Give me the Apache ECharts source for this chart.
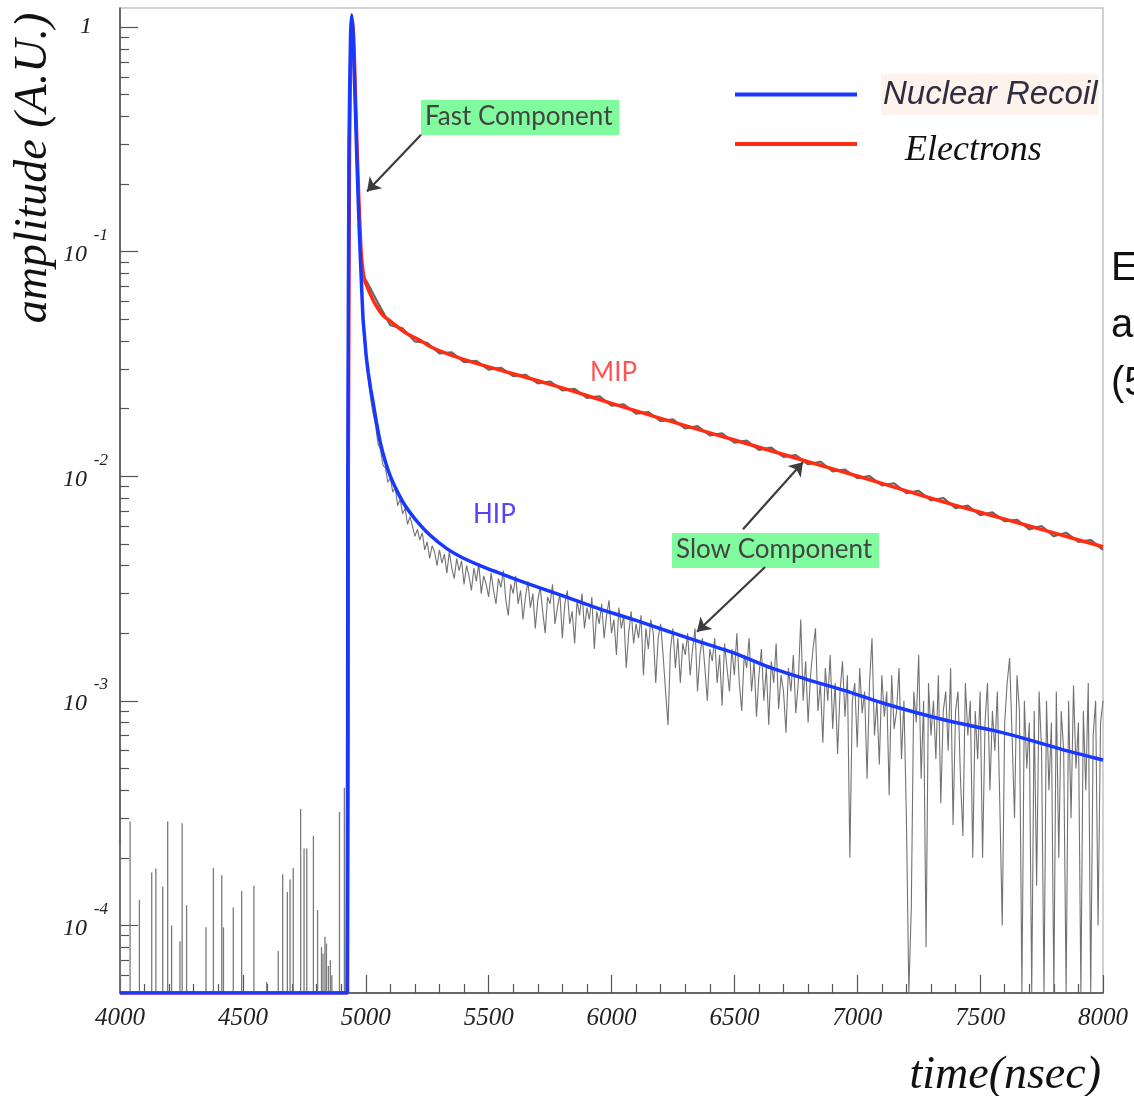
<!DOCTYPE html>
<html><head><meta charset="utf-8">
<script src="https://cdn.jsdelivr.net/npm/echarts@6/dist/echarts.min.js"></script>
<style>html,body{margin:0;padding:0;background:#fff}#c{width:1134px;height:1096px}</style>
</head><body><div id="c"></div>
<script>
// ---------- axis definitions ----------
const X_MIN = 4000, X_MAX = 8000, X_STEP = 500;
const Y_MIN = 5e-5, Y_MAX = 1.215;           // log axis range (floor of the plot)
const Y_MAJOR = [1e-4, 1e-3, 1e-2, 1e-1, 1];
const Y_MINOR = [5e-5,6e-5,7e-5,8e-5,9e-5,
  2e-4,3e-4,4e-4,5e-4,6e-4,7e-4,8e-4,9e-4,
  2e-3,3e-3,4e-3,5e-3,6e-3,7e-3,8e-3,9e-3,
  0.02,0.03,0.04,0.05,0.06,0.07,0.08,0.09,
  0.2,0.3,0.4,0.5,0.6,0.7,0.8,0.9];

// ---------- fitted curves [time ns, amplitude] ----------
const nuclearRecoilFit = [[4000,5e-5],[4924,5e-5],[4927,0.01],[4932,0.3],[4938,0.9],[4943,1.13],[4948,0.95],
  [4955,0.55],[4962,0.3],[4970,0.16],[4977,0.1],[4983,0.07],[4989,0.05],[4995,0.042],[5001,0.035],[5010,0.029],
  [5020,0.0245],[5030,0.0213],[5045,0.017],[5060,0.014],[5080,0.0116],[5100,0.01],[5127,0.0086],[5160,0.0074],
  [5200,0.00646],[5261,0.00547],[5330,0.00476],[5400,0.0043],[5470,0.00398],[5534,0.00374],[5650,0.00335],
  [5803,0.00293],[5953,0.00256],[6100,0.00228],[6230,0.00204],[6360,0.00183],[6500,0.00163],[6650,0.0014],
  [6800,0.00124],[6950,0.00111],[7100,0.00098],[7250,0.00088],[7400,0.0008],[7550,0.00074],[7700,0.00067],
  [7850,0.0006],[8000,0.000545]];
const electronsFit = [[4000,5e-5],[4926,5e-5],[4929,0.01],[4934,0.3],[4940,0.85],[4946,1.07],[4951,0.9],
  [4958,0.5],[4965,0.28],[4972,0.17],[4981,0.1],[4990,0.08],[4998,0.073],[5005,0.0699],[5020,0.064],
  [5040,0.058],[5070,0.052],[5100,0.049],[5127,0.0464],[5170,0.043],[5220,0.0403],[5261,0.0378],[5350,0.0345],
  [5450,0.0318],[5550,0.0296],[5700,0.0266],[5850,0.0238],[6000,0.0211],[6200,0.0181],[6400,0.0156],
  [6600,0.01345],[6800,0.0116],[7000,0.01002],[7200,0.0086],[7400,0.00741],[7600,0.00644],[7800,0.00559],
  [8000,0.00485]];

// ---------- measured traces (gray) ----------
// pre-trigger noise spikes [time, amplitude]
const preTriggerSpikes = [[4000,2.27e-4],[4041,2.9e-4],[4079,1.3e-4],[4129,1.72e-4],[4146,1.79e-4],[4174,1.49e-4],
  [4194,2.9e-4],[4210,1.0e-4],[4244,8.5e-5],[4253,2.85e-4],[4271,1.23e-4],[4350,9.8e-5],[4380,1.8e-4],
  [4414,1.67e-4],[4421,9.8e-5],[4461,1.2e-4],[4495,1.42e-4],[4545,1.5e-4],[4597,5.6e-5],[4644,7.7e-5],
  [4662,1.69e-4],[4681,1.41e-4],[4692,1.6e-4],[4705,1.8e-4],[4735,3.3e-4],[4749,2.2e-4],[4760,2.2e-4],
  [4787,2.5e-4],[4804,1.17e-4],[4820,8e-5],[4826,7.5e-5],[4834,8.9e-5],[4840,8.3e-5],[4848,6.6e-5],
  [4856,7e-5],[4862,6e-5],[4893,3.2e-4],[4913,4.1e-4]];
// nuclear-recoil (HIP) trace: rising edge, then samples every 10 ns from 5010 to 8000 (0 = below scale)
const hipRise = [[4924,5e-5],[4930,0.4],[4940,1.1],[4950,0.8],[4960,0.35],[4975,0.11],[4990,0.045],[5000,0.033]];
const HIP_START = 5010, HIP_STEP = 10;
const hipSamples = [
  0.027,0.022,0.019,0.0168,0.0139,0.0131,0.0112,0.0109,0.0094,0.0098,
  0.0085,0.0089,0.0074,0.0079,0.0068,0.0072,0.0061,0.0066,0.0060,0.0054,
  0.0058,0.0052,0.0056,0.0047,0.0051,0.0043,0.0049,0.0046,0.0040,0.0047,
  0.0041,0.0045,0.0037,0.0046,0.0039,0.0035,0.0043,0.0038,0.0042,0.0033,
  0.0040,0.0036,0.0031,0.0039,0.0034,0.0041,0.0030,0.0036,0.0033,0.0029,
  0.0037,0.0031,0.0027,0.0035,0.0032,0.0038,0.0028,0.0024,0.0033,0.0030,
  0.0036,0.0027,0.0031,0.0023,0.0029,0.0034,0.0026,0.0030,0.0021,0.0028,
  0.0032,0.0025,0.0020,0.0029,0.0027,0.0033,0.0022,0.0026,0.0030,0.0019,
  0.0027,0.0031,0.0022,0.0025,0.0018,0.0028,0.0024,0.0030,0.0021,0.0026,
  0.0023,0.0029,0.0017,0.0025,0.0022,0.0027,0.0019,0.0024,0.0028,0.0020,
  0.0023,0.0016,0.0026,0.0021,0.0024,0.0014,0.0020,0.0025,0.0018,0.0022,
  0.0019,0.0024,0.0013,0.0021,0.0017,0.0023,0.0020,0.0012,0.0019,0.0022,
  0.0016,0.0011,0.00078,0.0017,0.0021,0.0014,0.0019,0.0012,0.0018,0.0016,
  0.0020,0.0013,0.0017,0.0021,0.0011,0.0016,0.0019,0.0014,0.0010,0.0017,
  0.0015,0.0019,0.0012,0.0016,0.00095,0.0018,0.0014,0.0011,0.0017,0.0013,
  0.0020,0.0012,0.0009,0.0016,0.0014,0.0019,0.0011,0.0015,0.00085,0.0013,
  0.0017,0.0010,0.0014,0.00078,0.0015,0.0012,0.0018,0.00092,0.0013,0.0011,
  0.00072,0.0014,0.0011,0.0016,0.00088,0.0012,0.0023,0.0010,0.0015,0.00080,
  0.0013,0.0017,0.0021,0.0009,0.0012,0.00065,0.0014,0.0010,0.0016,0.00075,
  0.0012,0.00058,0.0011,0.0015,0.00085,0.0013,0.00020,0.0010,0.0012,0.00062,
  0.0014,0.00088,0.0011,0.00045,0.0012,0.0019,0.00070,0.0010,0.00052,0.0013,
  0.00085,0.0011,0.00038,0.0013,0.00075,0.0009,0.0014,0.00055,0.0010,0.00030,
  0,0.00012,0.0011,0.0008,0.0016,0.00045,0.0010,0.00008,0.0012,0.0007,
  0.0010,0.00055,0.0013,0.00035,0.0009,0.0011,0.0006,0.0014,0.00028,0.0009,
  0.0011,0.00045,0.00025,0.0012,0.0007,0.0010,0.0002,0.0009,0.00055,0.0011,
  0.0002,0.0008,0.0012,0.0004,0.0009,0.0006,0.0011,0.00035,0.0001,0.0008,
  0.0012,0.00155,0.0007,0.0003,0.0013,0.0009,0,0.0010,0.0005,0.0008,
  0,0.0009,0.00015,0.0011,0.0006,0,0.0010,0.0004,0.0008,0,
  0.0011,0.0002,0.0009,0.0006,0,0.0010,0.0003,0.00117,0.0005,0.0008,
  0,0.0009,0.0004,0.0012,0,0.0007,0.0010,0.0001,0.0008,0.0010];
// electron (MIP) trace: samples every 50 ns from 5000 to 8000
const MIP_START = 5000, MIP_STEP = 50;
const mipSamples = [
  0.075,0.059,0.047,0.0455,0.0398,0.0392,0.0352,0.0356,0.0322,0.0326,
  0.0298,0.0304,0.0279,0.0283,0.0259,0.0264,0.0241,0.0245,0.0223,0.0227,
  0.0206,0.0209,0.019,0.0193,0.0176,0.0179,0.0163,0.0167,0.0152,0.0155,
  0.0141,0.0144,0.0131,0.0134,0.0122,0.0124,0.0113,0.0116,0.0105,0.0107,
  0.0098,0.0100,0.0091,0.0093,0.0084,0.0086,0.0078,0.0080,0.0072,0.0074,
  0.0067,0.0069,0.0063,0.0064,0.0058,0.0060,0.0054,0.0056,0.0051,0.0052,
  0.0047];

// ---------- annotation arrows [tail, head] in data coords ----------
const arrows = [
  [[5225,0.331],[5005,0.185]],
  [[6535,0.00581],[6779,0.01154]],
  [[6625,0.00394],[6348,0.00203]]
];

// ---------- build series data ----------
const clamp = v => (v > 0 ? v : Y_MIN);
const hipTrace = hipRise.concat(hipSamples.map((v, i) => [HIP_START + i * HIP_STEP, clamp(v)]));
const mipTrace = [[4998,0.073]].concat(mipSamples.map((v, i) => [MIP_START + i * MIP_STEP, v]));

const serif = 'Liberation Serif';
const chart = echarts.init(document.getElementById('c'));
chart.setOption({
  animation: false,
  backgroundColor: '#fff',
  grid: { left: 120, top: 8, right: 31, bottom: 103, show: true, borderColor: '#c4c4c4', borderWidth: 1.5 },
  xAxis: {
    type: 'value', min: X_MIN, max: X_MAX, interval: X_STEP,
    axisLine: { lineStyle: { color: '#444', width: 1.5 } },
    axisTick: { inside: true, length: 18, lineStyle: { color: '#555', width: 1.2 } },
    minorTick: { show: true, splitNumber: 5, length: 9, lineStyle: { color: '#555', width: 1.2 } },
    splitLine: { show: false },
    axisLabel: { fontFamily: serif, fontStyle: 'italic', fontSize: 25, color: '#222', margin: 13,
      formatter: v => String(v) }
  },
  yAxis: [{
    type: 'log', logBase: 10, min: Y_MIN, max: Y_MAX, position: 'left',
    axisLine: { show: true, lineStyle: { color: '#444', width: 1.5 } },
    axisTick: { inside: true, length: 18, customValues: Y_MAJOR, lineStyle: { color: '#555', width: 1.2 } },
    splitLine: { show: false },
    axisLabel: {
      customValues: Y_MAJOR, margin: 12,
      formatter: v => {
        const e = Math.round(Math.log10(v));
        return e === 0 ? '{one|1}' : '{s|' + e + '}\n{b|10}{g|}';
      },
      rich: {
        one: { fontFamily: serif, fontStyle: 'italic', fontSize: 24, color: '#222', padding: [0, 16, 0, 0] },
        s: { fontFamily: serif, fontStyle: 'italic', fontSize: 17, lineHeight: 6, color: '#222' },
        b: { fontFamily: serif, fontStyle: 'italic', fontSize: 24, lineHeight: 32, color: '#222' },
        g: { width: 21 }
      }
    }
  }, {
    type: 'log', logBase: 10, min: Y_MIN, max: Y_MAX, position: 'left',
    axisLine: { show: false },
    axisTick: { inside: true, length: 9, customValues: Y_MINOR, lineStyle: { color: '#555', width: 1.2 } },
    axisLabel: { show: false }, splitLine: { show: false }
  }],
  legend: {
    orient: 'vertical', left: 735, top: 74, padding: 0, itemWidth: 122, itemHeight: 4, itemGap: 4,
    icon: 'rect', selectedMode: false,
    data: ['Nuclear Recoil', 'Electrons'],
    formatter: n => n === 'Nuclear Recoil' ? '{sp|}{nr|Nuclear Recoil}' : '{sp2|}{el|Electrons}',
    textStyle: {
      rich: {
        sp: { width: 19 }, sp2: { width: 43 },
        nr: { fontFamily: 'Liberation Sans', fontStyle: 'italic', fontSize: 33, lineHeight: 32,
              color: '#2e2e40', backgroundColor: '#fdf3ec', padding: [4, 1, 4, 2] },
        el: { fontFamily: serif, fontStyle: 'italic', fontSize: 36, lineHeight: 36, color: '#111',
              padding: [14, 0, 0, 0] }
      }
    }
  },
  series: [
    { type: 'custom', name: 'pre-trigger', coordinateSystem: 'cartesian2d', z: 1, silent: true,
      data: preTriggerSpikes,
      renderItem: (params, api) => {
        const top = api.coord([api.value(0), api.value(1)]);
        const bot = api.coord([api.value(0), Y_MIN]);
        return { type: 'line', shape: { x1: top[0], y1: top[1], x2: bot[0], y2: bot[1] },
                 style: { stroke: '#7a7a7a', lineWidth: 1.3 } };
      } },
    { type: 'line', name: 'HIP data', data: hipTrace, showSymbol: false, z: 2, silent: true,
      lineStyle: { color: '#727272', width: 1.1 } },
    { type: 'line', name: 'MIP data', data: mipTrace, showSymbol: false, z: 2, silent: true,
      lineStyle: { color: '#666', width: 2.2 } },
    { type: 'line', name: 'Electrons', data: electronsFit, showSymbol: false, z: 3, smooth: 0.15,
      color: '#ff2d12', lineStyle: { color: '#ff2d12', width: 3.5 } },
    { type: 'line', name: 'Nuclear Recoil', data: nuclearRecoilFit, showSymbol: false, z: 4, smooth: 0.2,
      color: '#1838ff', lineStyle: { color: '#1838ff', width: 3.5 },
      markLine: {
        silent: true, animation: false, symbol: ['none', 'arrow'], symbolSize: 13,
        label: { show: false },
        lineStyle: { color: '#3c3c3c', width: 2.2, type: 'solid' },
        data: arrows.map(a => [{ coord: a[0] }, { coord: a[1] }])
      } }
  ],
  graphic: [
    { type: 'text', x: 34, y: 168, rotation: Math.PI / 2,
      style: { text: 'amplitude (A.U.)', fontFamily: serif, fontStyle: 'italic', fontSize: 46, fill: '#111',
               align: 'center', verticalAlign: 'middle' } },
    { type: 'text', x: 1101, y: 1076,
      style: { text: 'time(nsec)', fontFamily: serif, fontStyle: 'italic', fontSize: 46, fill: '#111',
               align: 'right', verticalAlign: 'middle' } },
    { type: 'text', x: 421, y: 100,
      style: { text: 'Fast Component', fontFamily: 'Lato', fontSize: 26, fill: '#444',
               backgroundColor: '#80fb9e', padding: [4, 7, 5, 4], align: 'left', verticalAlign: 'top' } },
    { type: 'text', x: 672, y: 533,
      style: { text: 'Slow Component', fontFamily: 'Lato', fontSize: 26, fill: '#444',
               backgroundColor: '#80fb9e', padding: [4, 7, 5, 4], align: 'left', verticalAlign: 'top' } },
    { type: 'text', x: 590, y: 373,
      style: { text: 'MIP', fontFamily: 'Lato', fontSize: 26, fill: '#ff5252', align: 'left', verticalAlign: 'middle' } },
    { type: 'text', x: 473, y: 515,
      style: { text: 'HIP', fontFamily: 'Lato', fontSize: 26, fill: '#5a44f2', align: 'left', verticalAlign: 'middle' } },
    { type: 'text', x: 1111, y: 269,
      style: { text: 'E', fontFamily: 'Liberation Sans', fontSize: 40, fill: '#111', align: 'left', verticalAlign: 'middle' } },
    { type: 'text', x: 1111, y: 326,
      style: { text: 'a', fontFamily: 'Liberation Sans', fontSize: 40, fill: '#111', align: 'left', verticalAlign: 'middle' } },
    { type: 'text', x: 1111, y: 384,
      style: { text: '(5', fontFamily: 'Liberation Sans', fontSize: 40, fill: '#111', align: 'left', verticalAlign: 'middle' } }
  ]
});
</script></body></html>
